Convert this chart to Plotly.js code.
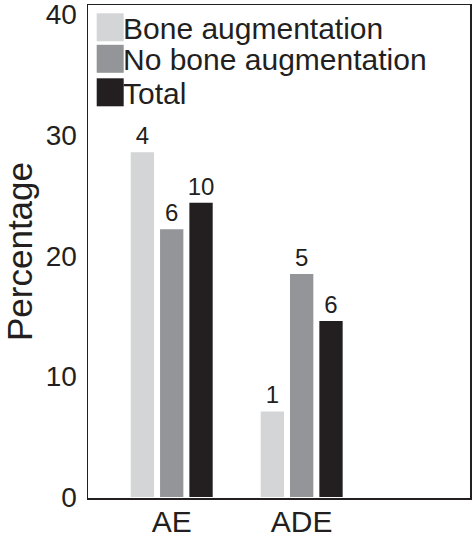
<!DOCTYPE html>
<html>
<head>
<meta charset="utf-8">
<script src="https://cdn.plot.ly/plotly-3.0.1.min.js"></script>
<style>html,body{margin:0;padding:0;background:#fff;}#chart{width:473px;height:542px;}</style>
</head>
<body>
<div id="chart"></div>
<script>
// ---- data ----
var categories = ['AE', 'ADE'];
var seriesNames = ['Bone augmentation', 'No bone augmentation', 'Total'];
var boneAug = [28.6, 7.1];
var noBoneAug = [22.2, 18.5];
var total = [24.4, 14.6];
var boneAugN = [4, 1];
var noBoneAugN = [6, 5];
var totalN = [10, 6];
var yTicks = [0, 10, 20, 30, 40];

// ---- style ----
var colors = ['#d4d5d7', '#939598', '#231f20'];
var FONT = '"Liberation Sans", Arial, Helvetica, sans-serif';
var W = 473, H = 542, L = 88, R = 3, T = 5, B = 44;
var pw = W - L - R, ph = H - T - B;
function px2x(p) { return (p - L) / pw; }
function px2y(p) { return (H - B - p) / ph; }

var values = [boneAug, noBoneAug, total];
var counts = [boneAugN, noBoneAugN, totalN];
var traces = values.map(function (v, i) {
  return {
    type: 'bar', x: categories, y: v, name: seriesNames[i],
    marker: {color: colors[i], line: {width: 0}},
    text: counts[i].map(String), textposition: 'outside', cliponaxis: false,
    constraintext: 'none',
    textfont: {family: FONT, size: 24, color: '#231f20'},
    showlegend: false, hoverinfo: 'skip'
  };
});

// manual legend with large swatches
var shapes = [], annotations = [];
var rowTop = [13.3, 44.8, 78.3], sw = 27, sh = 28;
seriesNames.forEach(function (n, i) {
  shapes.push({type: 'rect', xref: 'paper', yref: 'paper',
    x0: px2x(96.7), x1: px2x(96.7 + sw), y0: px2y(rowTop[i] + sh), y1: px2y(rowTop[i]),
    fillcolor: colors[i], line: {width: 0}});
  annotations.push({xref: 'paper', yref: 'paper', x: px2x(122), y: px2y(rowTop[i] + sh / 2 + 1),
    xanchor: 'left', yanchor: 'middle', showarrow: false, text: n, borderpad: 0,
    font: {family: FONT, size: 30, color: '#231f20'}});
});

var layout = {
  width: W, height: H,
  margin: {l: L, r: R, t: T, b: B, pad: 0},
  paper_bgcolor: '#fff', plot_bgcolor: '#fff',
  font: {family: FONT, color: '#231f20'},
  barmode: 'group', bargap: 0.323, bargroupgap: 0.205,
  showlegend: false,
  xaxis: {type: 'category', range: [-0.644, 2.295], showgrid: false, zeroline: false,
    showline: true, linecolor: '#231f20', linewidth: 1.5, mirror: true,
    ticks: '', tickfont: {family: FONT, size: 30, color: '#231f20'}, ticklabelstandoff: -4,
    ticklabeloverflow: 'allow'},
  yaxis: {range: [-0.08, 40.8], tickvals: yTicks, ticktext: yTicks.map(String),
    showgrid: false, zeroline: false,
    showline: true, linecolor: '#231f20', linewidth: 1.5, mirror: true,
    ticks: '', tickfont: {family: FONT, size: 28, color: '#231f20'}, ticklabelstandoff: 4,
    ticklabeloverflow: 'allow',
    title: {text: 'Percentage', font: {family: FONT, size: 35, color: '#231f20'}}},
  shapes: shapes, annotations: annotations
};

Plotly.newPlot('chart', traces, layout, {displayModeBar: false, staticPlot: true});
</script>
</body>
</html>
